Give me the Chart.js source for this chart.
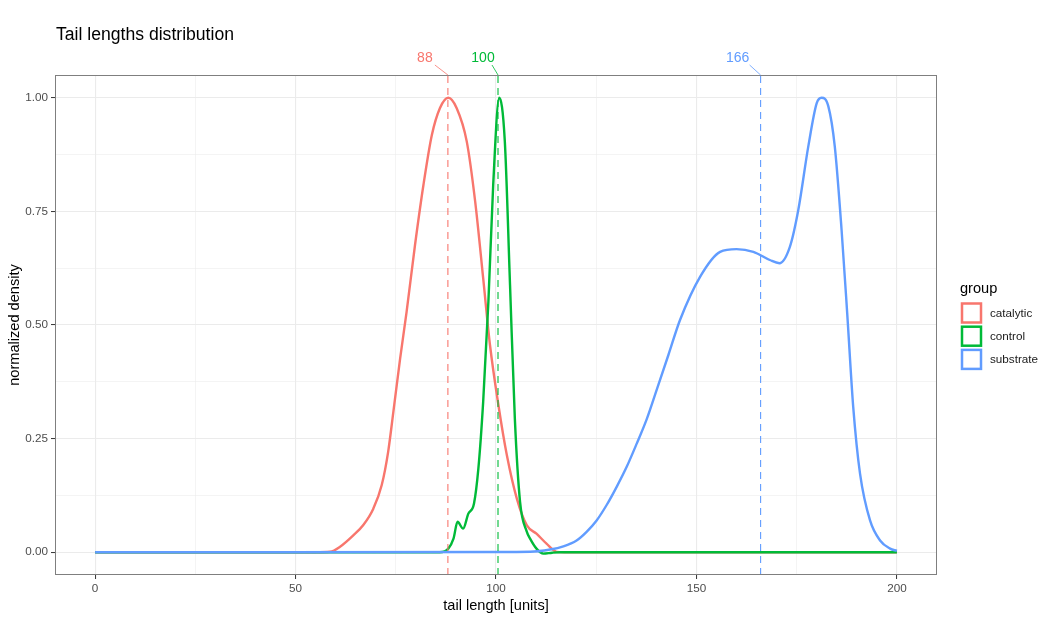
<!DOCTYPE html>
<html>
<head>
<meta charset="utf-8">
<title>Tail lengths distribution</title>
<script src="https://cdn.jsdelivr.net/npm/chart.js@4.4.1/dist/chart.umd.min.js"></script>
<style>
    html, body { margin: 0; padding: 0; background: #ffffff; }
    #wrap { width: 1058px; height: 626px; }
</style>
</head>
<body>
<div id="wrap"><canvas id="tails-chart" width="1058" height="626"></canvas></div>
<script>
// datos
const groups = ['catalytic', 'control', 'substrate'];
const groupColors = ['#F8766D', '#00BA38', '#619CFF'];

const catalyticX = [0, 55, 58.6, 61.1, 64.4, 66.9, 69.4, 71.5, 73.1, 74.4, 76.1, 77.7, 79.8, 81.9, 84, 86, 88.1, 90.2, 92.7, 94.8, 96.8, 98.5, 100.6, 102.7, 105.2, 107.7, 110.1, 112.6, 115.1, 117, 200];
const catalyticY = [0, 0, 0.001, 0.012, 0.037, 0.06, 0.096, 0.148, 0.221, 0.309, 0.427, 0.529, 0.676, 0.808, 0.918, 0.977, 1.0, 0.977, 0.904, 0.772, 0.603, 0.456, 0.324, 0.214, 0.118, 0.059, 0.041, 0.019, 0.001, 0, 0];

const controlX = [0, 86, 88.1, 89.4, 90.4, 91.8, 93.1, 94.5, 95.6, 96.8, 98.1, 99.3, 100.8, 102.2, 103.5, 104.7, 106, 107.7, 108.5, 110.1, 111.8, 114, 116, 200];
const controlY = [0, 0, 0.008, 0.03, 0.067, 0.052, 0.085, 0.107, 0.184, 0.331, 0.551, 0.808, 1.0, 0.904, 0.588, 0.294, 0.111, 0.045, 0.03, 0.008, -0.003, -0.001, 0, 0];

const substrateX = [0, 100, 108.5, 113.5, 116.8, 120.1, 122.6, 125.1, 127.6, 130.1, 132.6, 135.1, 137.6, 140.1, 143, 145.9, 150.9, 155.9, 160, 164.2, 168.3, 170.7, 173.3, 175.4, 177.9, 180, 181.2, 182.9, 184.5, 186.2, 187.6, 189.1, 190.8, 193.3, 195.8, 198.3, 200];
const substrateY = [0, 0.0005, 0.001, 0.006, 0.013, 0.026, 0.045, 0.07, 0.104, 0.144, 0.188, 0.239, 0.293, 0.358, 0.434, 0.511, 0.606, 0.661, 0.667, 0.661, 0.643, 0.636, 0.672, 0.753, 0.893, 0.988, 1.0, 0.981, 0.893, 0.709, 0.526, 0.32, 0.173, 0.07, 0.026, 0.008, 0.003];

const medianValues = [88, 100.5, 166];
const medianLabels = ['88', '100', '166'];

const xTicks = [0, 25, 50, 75, 100, 125, 150, 175, 200];
const xTickLabels = ['0', '', '50', '', '100', '', '150', '', '200'];
const yTicks = [0, 0.125, 0.25, 0.375, 0.5, 0.625, 0.75, 0.875, 1];
const yTickLabels = ['0.00', '', '0.25', '', '0.50', '', '0.75', '', '1.00'];

const FONT = '"Liberation Sans", Arial, sans-serif';

function toPoints(xs, ys) {
    return xs.map(function (x, i) { return { x: x, y: ys[i] }; });
}

const seriesX = [catalyticX, controlX, substrateX];
const seriesY = [catalyticY, controlY, substrateY];

const datasets = [];

groups.forEach(function (g, i) {
    datasets.push({
        label: g,
        data: toPoints(seriesX[i], seriesY[i]),
        borderColor: groupColors[i],
        borderWidth: 2.4,
        pointRadius: 0,
        fill: false,
        cubicInterpolationMode: 'monotone',
        order: 3 - i
    });
});

medianValues.forEach(function (m, i) {
    datasets.push({
        label: 'median ' + groups[i],
        data: [{ x: m, y: -0.05 }, { x: m, y: 1.05 }],
        borderColor: groupColors[i],
        borderWidth: 1.1,
        borderDash: [7, 5],
        pointRadius: 0,
        fill: false,
        order: 0
    });
});

// marco, titulos, etiquetas de medianas y leyenda
const decorations = {
    id: 'decorations',
    afterDatasetsDraw: function (chart) {
        const c = chart.ctx;
        const area = chart.chartArea;
        const xs = chart.scales.x;

        c.save();

        // borde del panel
        c.strokeStyle = '#7f7f7f';
        c.lineWidth = 1;
        c.strokeRect(area.left + 0.5, area.top + 0.5, area.right - area.left - 1, area.bottom - area.top - 1);

        // titulo
        c.fillStyle = '#000000';
        c.font = '17.6px ' + FONT;
        c.textAlign = 'left';
        c.textBaseline = 'alphabetic';
        c.fillText('Tail lengths distribution', 56, 40);

        // titulos de ejes
        c.font = '14.6px ' + FONT;
        c.textAlign = 'center';
        c.fillText('tail length [units]', (area.left + area.right) / 2, 610);

        c.save();
        c.translate(19, (area.top + area.bottom) / 2);
        c.rotate(-Math.PI / 2);
        c.textBaseline = 'alphabetic';
        c.fillText('normalized density', 0, 0);
        c.restore();

        // etiquetas de medianas
        const offsets = [-23, -15, -23];
        const leaderTop = [-13, -6, -11];
        c.font = '14px ' + FONT;
        c.textAlign = 'center';
        c.textBaseline = 'middle';
        medianValues.forEach(function (m, i) {
            const px = xs.getPixelForValue(m);
            c.strokeStyle = groupColors[i];
            c.lineWidth = 0.8;
            c.beginPath();
            c.moveTo(px, area.top);
            c.lineTo(px + leaderTop[i], area.top - 10);
            c.stroke();
            c.fillStyle = groupColors[i];
            c.fillText(medianLabels[i], px + offsets[i], area.top - 17);
        });

        // leyenda
        c.fillStyle = '#000000';
        c.font = '14.6px ' + FONT;
        c.textAlign = 'left';
        c.textBaseline = 'alphabetic';
        c.fillText('group', 960, 293);

        c.font = '11.7px ' + FONT;
        c.textBaseline = 'middle';
        groups.forEach(function (g, i) {
            const cy = 313 + i * 23.2;
            c.fillStyle = '#ffffff';
            c.fillRect(962, cy - 9.5, 19, 19);
            c.strokeStyle = groupColors[i];
            c.lineWidth = 2.5;
            c.strokeRect(962, cy - 9.5, 19, 19);
            c.fillStyle = '#1a1a1a';
            c.fillText(g, 990, cy + 0.5);
        });

        c.restore();
    }
};

function isMajorX(v) { return Math.abs(v % 50) < 1e-9; }
function isMajorY(v) { return Math.abs(v * 4 - Math.round(v * 4)) < 1e-9; }

const ctx = document.getElementById('tails-chart');

new Chart(ctx, {
    type: 'line',

    data: { datasets: datasets },

    options: {
        responsive: false,
        animation: false,
        events: [],
        layout: {
            padding: { left: 0, right: 121, top: 75, bottom: 0 }
        },
        plugins: {
            legend: { display: false },
            tooltip: { enabled: false }
        },
        scales: {
            x: {
                type: 'linear',
                min: -10,
                max: 210,
                afterBuildTicks: function (s) {
                    s.ticks = xTicks.map(function (v) { return { value: v }; });
                },
                afterFit: function (s) { s.height = 51; },
                ticks: {
                    autoSkip: false,
                    maxRotation: 0,
                    padding: 3,
                    color: '#4D4D4D',
                    font: { family: FONT, size: 11.7 },
                    callback: function (v) {
                        const k = xTicks.indexOf(v);
                        return k >= 0 ? xTickLabels[k] : '';
                    }
                },
                grid: {
                    color: '#EBEBEB',
                    lineWidth: function (c) { return c.tick && isMajorX(c.tick.value) ? 1.1 : 0.55; },
                    tickColor: function (c) { return c.tick && isMajorX(c.tick.value) ? '#333333' : 'rgba(0,0,0,0)'; },
                    tickLength: 4,
                    tickWidth: 1
                },
                border: { display: false }
            },
            y: {
                type: 'linear',
                min: -0.05,
                max: 1.05,
                afterBuildTicks: function (s) {
                    s.ticks = yTicks.map(function (v) { return { value: v }; });
                },
                afterFit: function (s) { s.width = 55; },
                ticks: {
                    autoSkip: false,
                    padding: 3,
                    color: '#4D4D4D',
                    font: { family: FONT, size: 11.7 },
                    callback: function (v) {
                        const k = yTicks.indexOf(v);
                        return k >= 0 ? yTickLabels[k] : '';
                    }
                },
                grid: {
                    color: '#EBEBEB',
                    lineWidth: function (c) { return c.tick && isMajorY(c.tick.value) ? 1.1 : 0.55; },
                    tickColor: function (c) { return c.tick && isMajorY(c.tick.value) ? '#333333' : 'rgba(0,0,0,0)'; },
                    tickLength: 4,
                    tickWidth: 1
                },
                border: { display: false }
            }
        }
    },

    plugins: [decorations]
});
</script>
</body>
</html>
